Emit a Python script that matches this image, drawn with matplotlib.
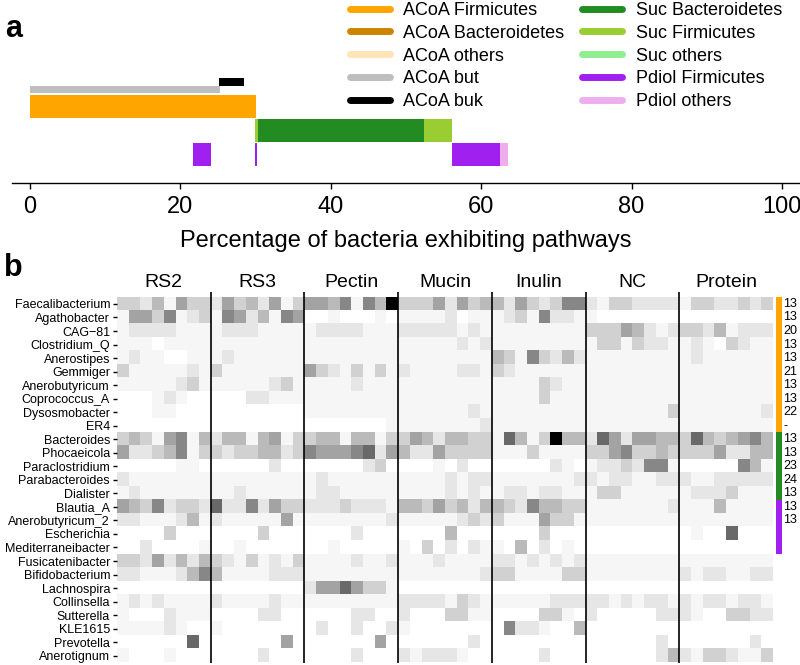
import matplotlib.pyplot as plt
from matplotlib.lines import Line2D
from matplotlib.colors import LinearSegmentedColormap
import numpy as np

plt.rcParams['font.family'] = ['Liberation Sans', 'DejaVu Sans']

# ---------------- panel a data ----------------
legend_names = ['ACoA Firmicutes', 'ACoA Bacteroidetes', 'ACoA others', 'ACoA but', 'ACoA buk',
                'Suc Bacteroidetes', 'Suc Firmicutes', 'Suc others', 'Pdiol Firmicutes', 'Pdiol others']
legend_colors = ['#FFA500', '#CD8500', '#FFE4B5', '#BEBEBE', '#000000',
                 '#228B22', '#9ACD32', '#90EE90', '#A020F0', '#EEAEEE']

acoa_left = [0, 21.6]
acoa_width = [21.6, 8.5]
acoa_kind = ['ACoA Firmicutes', 'ACoA Firmicutes']

but_left = [0]
but_width = [25.2]

buk_left = [25.1]
buk_width = [3.3]

suc_left = [29.9, 30.3, 52.4]
suc_width = [0.4, 22.1, 3.7]
suc_kind = ['Suc Firmicutes', 'Suc Bacteroidetes', 'Suc Firmicutes']

pdiol_left = [21.7, 29.9, 56.1, 62.5]
pdiol_width = [2.4, 0.3, 6.4, 1.1]
pdiol_kind = ['Pdiol Firmicutes', 'Pdiol Firmicutes', 'Pdiol Firmicutes', 'Pdiol others']

# ---------------- panel b data ----------------
groups = ['RS2', 'RS3', 'Pectin', 'Mucin', 'Inulin', 'NC', 'Protein']
genera = ['Faecalibacterium', 'Agathobacter', 'CAG\u221281', 'Clostridium_Q', 'Anerostipes',
          'Gemmiger', 'Anerobutyricum', 'Coprococcus_A', 'Dysosmobacter', 'ER4',
          'Bacteroides', 'Phocaeicola', 'Paraclostridium', 'Parabacteroides', 'Dialister',
          'Blautia_A', 'Anerobutyricum_2', 'Escherichia', 'Mediterraneibacter', 'Fusicatenibacter',
          'Bifidobacterium', 'Lachnospira', 'Collinsella', 'Sutterella', 'KLE1615',
          'Prevotella', 'Anerotignum']

# relative abundance shade (0 white .. 9 black), 8 samples per group
abundance = [
    [3,3,2,4,1,5,3,3, 2,5,3,4,2,5,1,3, 5,5,4,6,1,6,4,9, 3,3,3,5,2,5,3,4, 4,2,5,3,2,3,6,6, 2,1,3,3,2,2,2,2, 1,3,3,2,2,3,2,3],
    [1,5,5,3,6,1,2,3, 1,6,5,2,4,1,6,5, 0,0,1,0,0,0,1,0, 1,1,1,1,2,0,1,1, 1,2,3,1,6,2,2,1, 1,0,0,0,0,0,0,0, 0,0,0,0,0,0,0,0],
    [1,2,2,2,2,1,1,1, 1,2,2,2,1,1,1,1, 1,2,2,2,2,1,1,1, 2,2,2,2,2,1,2,1, 1,1,1,1,1,1,1,1, 3,3,3,5,4,2,1,2, 3,3,2,4,1,2,2,2],
    [1,1,1,0,1,1,1,1, 1,1,1,1,1,1,1,1, 1,1,1,1,1,1,1,1, 1,1,1,1,1,2,1,2, 1,1,1,1,1,1,1,1, 1,3,3,1,3,2,2,1, 1,2,1,0,3,2,1,1],
    [1,2,1,1,0,0,1,1, 1,2,1,1,1,1,1,1, 1,1,1,1,1,1,1,1, 1,1,1,1,1,1,1,1, 4,3,1,6,3,2,4,2, 1,1,1,1,1,1,1,1, 1,2,1,1,1,1,1,1],
    [3,1,1,1,1,1,2,1, 3,1,1,1,1,1,1,1, 5,3,2,1,3,1,3,1, 2,1,1,1,1,2,2,1, 3,2,1,1,1,1,1,1, 1,1,1,1,1,1,1,1, 1,1,1,1,1,1,1,1],
    [1,1,1,1,1,2,3,1, 1,1,1,1,1,2,3,1, 1,1,1,1,2,1,1,1, 1,1,1,1,1,1,1,1, 1,1,1,1,3,2,1,1, 1,1,1,1,1,1,1,1, 1,1,1,1,1,1,1,1],
    [0,0,0,1,2,1,0,0, 0,0,0,2,2,1,1,1, 1,1,1,1,1,1,1,1, 1,1,1,1,1,1,1,1, 1,1,1,1,3,1,1,1, 1,1,1,1,1,1,1,1, 1,1,1,1,1,1,1,1],
    [0,0,0,1,1,0,0,0, 0,0,0,0,0,0,0,0, 1,1,1,1,1,1,1,1, 1,1,1,1,1,1,2,1, 1,1,1,1,1,1,1,1, 1,1,1,1,1,1,1,3, 1,1,1,1,1,1,1,2],
    [0,0,0,0,0,0,0,0, 0,0,0,0,0,0,0,0, 0,0,0,0,0,0,0,1, 1,1,1,1,1,1,1,2, 1,1,1,1,1,1,1,1, 1,1,1,1,1,1,1,1, 1,1,1,1,1,1,1,1],
    [3,4,3,1,5,6,1,4, 2,4,4,1,4,5,1,3, 3,4,4,1,4,4,1,3, 3,5,4,2,4,4,3,3, 1,7,4,1,3,9,4,4, 2,7,5,2,5,5,4,4, 3,7,4,3,4,5,6,4],
    [5,2,2,3,4,6,1,3, 3,2,3,3,4,4,2,3, 6,5,5,5,6,7,2,5, 4,2,2,5,3,3,3,3, 1,1,1,3,1,1,1,1, 3,3,5,6,3,3,4,3, 3,3,3,5,2,2,4,4],
    [0,0,0,0,0,1,1,0, 0,0,0,0,0,2,0,0, 0,0,0,0,0,2,3,0, 0,0,0,1,0,2,0,0, 0,0,0,0,0,2,1,0, 1,2,2,3,2,6,6,1, 0,0,0,0,0,6,4,1],
    [2,1,1,1,1,1,1,1, 1,1,1,1,1,1,1,1, 1,2,1,1,1,1,1,1, 1,1,1,1,2,1,2,2, 1,1,1,1,1,1,1,2, 2,1,2,2,1,1,2,2, 2,1,1,2,2,2,2,2],
    [1,2,1,1,1,1,1,1, 1,1,2,1,1,1,1,1, 1,2,2,1,1,1,1,1, 1,1,1,1,2,1,2,1, 1,2,2,1,2,2,1,1, 1,3,3,1,1,1,1,1, 1,2,2,2,3,1,1,1],
    [5,4,3,6,2,3,3,2, 7,2,2,6,2,5,3,3, 2,2,2,3,2,2,2,1, 4,4,3,5,3,4,2,4, 4,3,2,6,4,4,3,3, 1,1,1,1,1,1,1,2, 1,1,1,4,1,1,1,1],
    [2,2,1,1,1,2,4,1, 2,1,1,1,1,1,5,1, 1,1,1,1,1,1,1,2, 1,1,1,1,1,2,3,2, 3,1,1,1,5,3,3,1, 1,1,1,1,1,1,1,1, 1,1,1,1,1,1,1,1],
    [0,0,0,0,3,0,0,0, 0,0,0,0,3,0,0,0, 0,0,0,0,2,0,0,0, 0,0,0,0,4,0,0,0, 0,0,0,0,3,0,0,0, 0,0,0,0,0,0,0,0, 0,1,0,0,7,0,0,0],
    [0,0,2,0,0,0,0,1, 0,0,1,0,0,0,0,0, 0,0,1,0,0,0,0,0, 1,0,3,0,2,0,2,1, 1,0,4,0,2,0,1,0, 0,0,0,0,0,0,0,0, 0,0,0,0,0,0,0,0],
    [3,3,2,5,2,4,2,4, 3,2,1,3,1,2,1,3, 1,1,1,1,2,1,1,2, 1,1,1,2,1,1,1,1, 2,2,1,2,1,2,1,2, 1,1,1,1,1,1,1,1, 1,1,1,1,1,1,1,1],
    [2,2,1,1,1,2,4,6, 4,1,1,1,1,2,2,2, 1,1,1,1,1,1,1,1, 1,1,1,1,1,1,1,2, 3,3,1,1,1,1,3,3, 1,1,1,1,1,1,1,1, 2,1,2,2,1,1,2,2],
    [0,0,0,0,0,0,0,0, 0,0,0,0,0,0,0,0, 2,5,5,7,5,3,3,1, 0,0,0,0,0,0,0,0, 0,0,0,0,0,0,0,0, 0,0,0,0,0,0,0,0, 0,0,0,0,0,0,0,0],
    [1,2,1,2,1,1,1,1, 2,1,1,1,1,2,1,1, 1,1,1,1,1,1,1,1, 2,2,2,2,1,3,2,1, 1,1,1,1,1,2,2,2, 2,2,1,2,1,2,2,1, 2,1,2,2,1,2,2,1],
    [1,0,0,0,2,1,1,1, 0,0,0,0,2,2,0,0, 0,0,0,0,2,2,0,0, 2,0,0,0,3,3,1,1, 0,0,0,0,3,3,1,0, 2,0,0,0,0,0,2,2, 2,1,0,0,3,3,2,2],
    [1,1,1,1,2,1,0,0, 1,0,0,0,0,0,0,0, 0,2,0,0,2,0,0,2, 1,0,0,0,0,0,0,0, 0,6,2,2,1,0,0,4, 0,0,0,0,0,0,0,0, 0,0,0,0,0,0,0,0],
    [0,0,0,0,0,0,7,0, 0,0,0,0,0,0,5,0, 0,0,0,0,0,0,5,0, 0,0,0,0,0,0,2,0, 0,0,0,0,0,0,0,0, 0,0,0,0,0,0,2,0, 0,0,0,0,0,0,2,0],
    [1,0,0,0,1,0,0,0, 0,0,0,0,2,0,0,0, 0,0,0,0,2,0,0,0, 2,1,2,2,2,1,0,0, 0,0,0,0,2,0,0,0, 0,0,0,0,0,0,2,4, 2,1,3,3,2,1,1,3],
]

side_colors = ['#FFA500'] * 10 + ['#228B22'] * 5 + ['#A020F0'] * 4
side_labels = ['13', '13', '20', '13', '13', '21', '13', '13', '22', '-',
               '13', '13', '23', '24', '13', '13', '13']

W, H = 800, 665
fig = plt.figure(figsize=(W / 100, H / 100), dpi=100)
col = dict(zip(legend_names, legend_colors))

# ---------------- panel a ----------------
ax = fig.add_axes([12 / W, 1 - 183 / H, 788 / W, 183 / H])
ax.barh(0, pdiol_width, left=pdiol_left, height=0.95, color=[col[k] for k in pdiol_kind], linewidth=0)
ax.barh(1, suc_width, left=suc_left, height=0.95, color=[col[k] for k in suc_kind], linewidth=0)
ax.barh(2, acoa_width, left=acoa_left, height=0.95, color=[col[k] for k in acoa_kind], linewidth=0)
ax.barh(2.71, but_width, left=but_left, height=0.3, color=col['ACoA but'], linewidth=0)
ax.barh(3.02, buk_width, left=buk_left, height=0.31, color=col['ACoA buk'], linewidth=0)
ax.set_xlim(-2.4, 102.4)
ax.set_ylim(-1.19, 6.44)
ax.set_xticks([0, 20, 40, 60, 80, 100])
ax.tick_params(axis='x', labelsize=17, length=4, width=1, pad=5)
ax.set_yticks([])
for s in ['top', 'right', 'left']:
    ax.spines[s].set_visible(False)
ax.spines['bottom'].set_linewidth(1)
ax.set_xlabel('Percentage of bacteria exhibiting pathways', fontsize=17, labelpad=9)
ax.patch.set_alpha(0)

handles = [Line2D([], [], color=c, lw=5, solid_capstyle='round') for c in legend_colors]
fig.legend(handles, legend_names, loc='upper left', bbox_to_anchor=(350 / W, 0.997),
           ncol=2, frameon=False, fontsize=13, handlelength=2.2, handletextpad=0.75,
           labelspacing=0.32, columnspacing=1.0, borderpad=0, borderaxespad=0)

fig.text(5 / W, 1 - 29 / H, 'a', fontsize=22, fontweight='bold', va='center')
fig.text(4 / W, 1 - 268 / H, 'b', fontsize=22, fontweight='bold', va='center')

# ---------------- panel b ----------------
cmap = LinearSegmentedColormap.from_list(
    'shade', [(0, '#ffffff'), (0.11, '#f6f6f6'), (0.22, '#e6e6e6'), (0.33, '#d2d2d2'),
              (0.56, '#a3a3a3'), (0.78, '#6a6a6a'), (1, '#000000')])
bx = fig.add_axes([117 / W, 1 - 662.5 / H, 656 / W, 365.3 / H])
data = np.array(abundance)
bx.imshow(data, cmap=cmap, vmin=0, vmax=9, aspect='auto', interpolation='nearest')
n_per = data.shape[1] // len(groups)
bx.vlines([n_per * k - 0.5 for k in range(1, len(groups))], -0.9, len(genera) - 0.5,
          color='black', lw=1.2, clip_on=False)
for k, g in enumerate(groups):
    bx.text(n_per * k + n_per / 2 - 0.5, -1.55, g, ha='center', va='center', fontsize=14)
bx.set_xticks([])
bx.set_yticks(range(len(genera)))
bx.set_yticklabels(genera, fontsize=9)
bx.tick_params(axis='y', length=3, width=1, pad=2)
for s in bx.spines.values():
    s.set_visible(False)
bx.set_ylim(len(genera) - 0.5, -0.5)

sx = fig.add_axes([776 / W, 1 - 662.5 / H, 6 / W, 365.3 / H])
sx.barh(range(len(side_colors)), 1, height=1.0, color=side_colors, linewidth=0)
sx.set_ylim(len(genera) - 0.5, -0.5)
sx.set_xlim(0, 1)
sx.axis('off')
for i, lab in enumerate(side_labels):
    sx.text(1.2, i, lab, ha='left', va='center', fontsize=9, transform=sx.get_yaxis_transform())

fig.savefig('out.png', dpi=100)
